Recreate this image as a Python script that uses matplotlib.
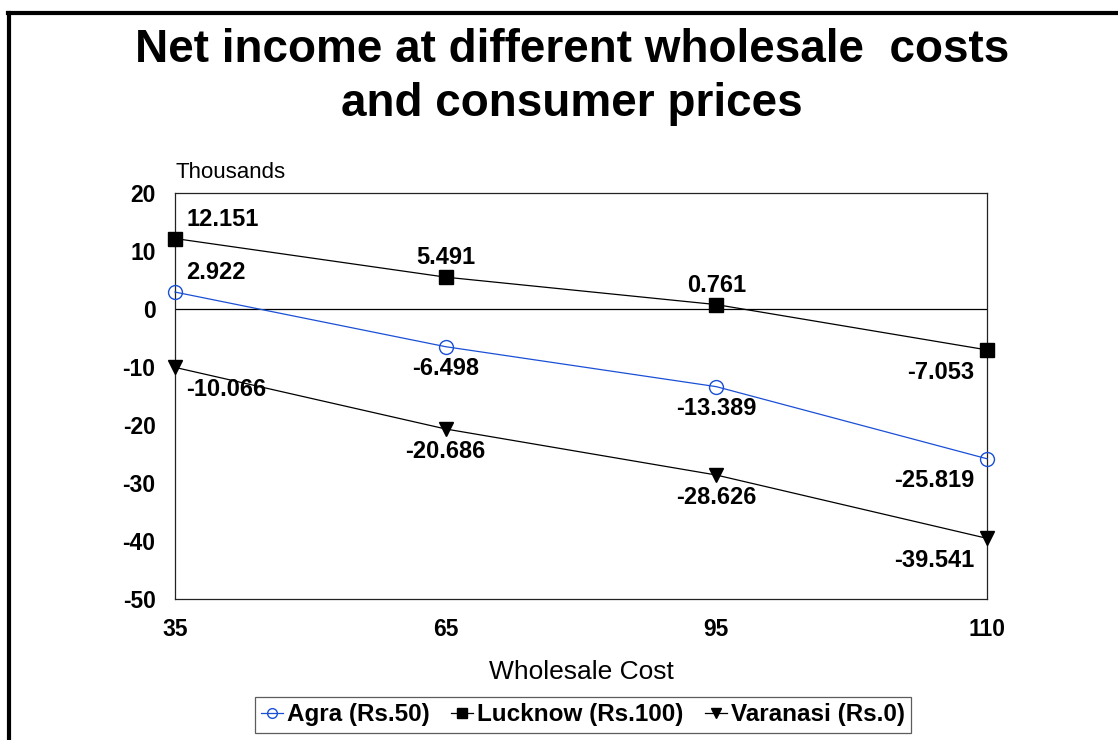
import matplotlib
matplotlib.use("Agg")
import matplotlib.pyplot as plt
from matplotlib.lines import Line2D

plt.rcParams['font.family'] = ['Liberation Sans', 'DejaVu Sans']
plt.rcParams['axes.unicode_minus'] = False

categories = ["35", "65", "95", "110"]
agra = [2.922, -6.498, -13.389, -25.819]
lucknow = [12.151, 5.491, 0.761, -7.053]
varanasi = [-10.066, -20.686, -28.626, -39.541]
series_names = ["Agra (Rs.50)", "Lucknow (Rs.100)", "Varanasi (Rs.0)"]
yticks = [-50, -40, -30, -20, -10, 0, 10, 20]

W, H = 1118, 740
fig = plt.figure(figsize=(W / 100, H / 100), dpi=100)
ax = fig.add_axes([175 / W, 1 - 599 / H, (987 - 175) / W, (599 - 193) / H])

x = list(range(len(categories)))
blue = "#1a4fd6"
l1, = ax.plot(x, agra, color=blue, lw=0.9, marker="o", ms=10, mfc="none",
              mec=blue, mew=1.0, label=series_names[0], zorder=3, clip_on=False)
l2, = ax.plot(x, lucknow, color="black", lw=0.9, marker="s", ms=9.5,
              mfc="black", mec="black", label=series_names[1], zorder=3, clip_on=False)
l3, = ax.plot(x, varanasi, color="black", lw=0.9, marker="v", ms=10,
              mfc="black", mec="black", label=series_names[2], zorder=3, clip_on=False)
ax.axhline(0, color="black", lw=0.9, zorder=2)

ax.set_xlim(0, len(categories) - 1)
ax.set_ylim(-50, 20)
ax.set_yticks(yticks)
ax.set_xticks(x)
ax.set_xticklabels(categories)
ax.tick_params(length=0, labelsize=16.5, pad=14)
for lab in ax.get_xticklabels() + ax.get_yticklabels():
    lab.set_fontweight("bold")
for s in ax.spines.values():
    s.set_linewidth(0.9)
    s.set_color("#222222")

def label_points(vals, above):
    n = len(vals)
    for i, v in enumerate(vals):
        if i == 0:
            ha, dx = "left", 8
        elif i == n - 1:
            ha, dx = "right", -9
        else:
            ha, dx = "center", 0
        dy = 14 if above[i] else -16
        ax.annotate(f"{v:.3f}", (i, v), xytext=(dx, dy), textcoords="offset points",
                    ha=ha, va="center", fontsize=17, fontweight="bold", zorder=4)

label_points(lucknow, [True, True, True, False])
label_points(agra, [True, False, False, False])
label_points(varanasi, [False, False, False, False])

fig.text(572 / W, 1 - 50 / H, "Net income at different wholesale  costs",
         ha="center", va="center", fontsize=33, fontweight="bold")
fig.text(572 / W, 1 - 104 / H, "and consumer prices",
         ha="center", va="center", fontsize=33, fontweight="bold")
fig.text(176 / W, 1 - 172 / H, "Thousands", ha="left", va="center", fontsize=16)
fig.text(581 / W, 1 - 672 / H, "Wholesale Cost", ha="center", va="center", fontsize=19)

leg = fig.legend(handles=[l1, l2, l3], loc="center", bbox_to_anchor=(583 / W, 1 - 715 / H),
                 ncol=3, frameon=True, fancybox=False, edgecolor="#333333",
                 prop={"size": 17.5, "weight": "bold"}, handlelength=0.9,
                 handletextpad=0.15, columnspacing=0.9, markerscale=0.7,
                 borderpad=0.25, borderaxespad=0)
leg.get_frame().set_linewidth(0.9)

fig.add_artist(Line2D([8 / W, 1], [1 - 13 / H, 1 - 13 / H], color="black", lw=3,
                      transform=fig.transFigure))
fig.add_artist(Line2D([9 / W, 9 / W], [0, 1 - 13 / H], color="black", lw=3,
                      transform=fig.transFigure))

fig.savefig("out.png", dpi=100)
